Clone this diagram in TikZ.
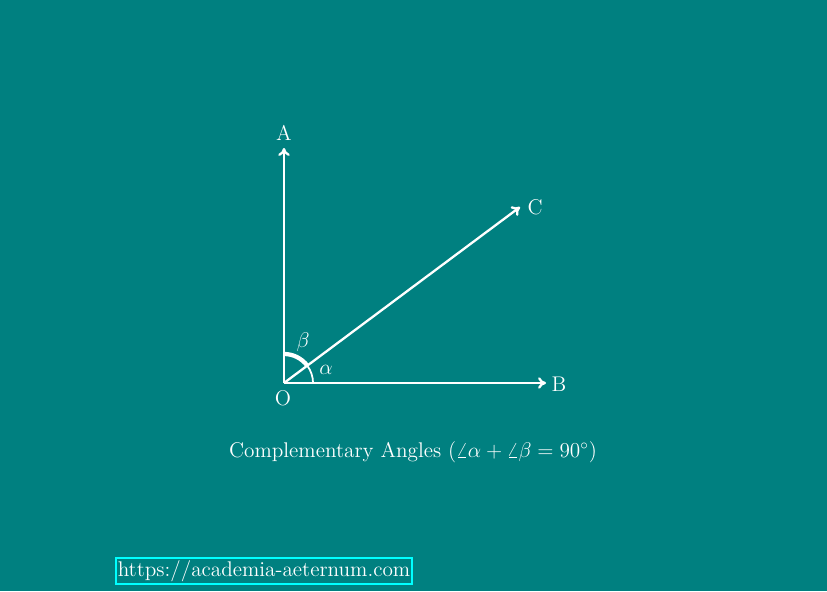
\documentclass[tikz,border=0pt]{standalone}
\usetikzlibrary{arrows.meta,calc}
\definecolor{bgteal}{RGB}{0,128,128}
\definecolor{boxcyan}{RGB}{0,255,255}
\begin{document}
\begin{tikzpicture}[x=0.565pt,y=-0.565pt,
  every node/.style={font=\fontsize{12pt}{14pt}\selectfont},
  ray/.style={white, line width=1.3pt, -{To[length=4.5pt,width=6.5pt]}},
  lbl/.style={text=white, inner sep=0pt}]
\fill[bgteal] (0,0) rectangle (827,591);
\useasboundingbox (0,0) rectangle (827,591);
\coordinate (O) at (284,383);
\coordinate (A) at (284,148);
\coordinate (B) at (546,383);
\coordinate (C) at (520,207);
\draw[ray] (O) -- (A);
\draw[ray] (O) -- (B);
\draw[ray] (O) -- (C);
\draw[white, line width=1pt] ($(O)+(16.4pt,0pt)$) arc[start angle=0, end angle=36.7, radius=16.4pt];
\draw[white, line width=2.4pt] ($(O)+(36.7:16.4pt)$) arc[start angle=36.7, end angle=90, radius=16.4pt];
\node[lbl] (la) at (284,133) {A};
\node[lbl] (lb) at (559,384) {B};
\node[lbl] (lc) at (535,207) {C};
\node[lbl] (lo) at (283,398) {O};
\node[lbl] (alpha) at (326,370) {$\alpha$};
\node[lbl] (beta) at (303,342) {$\beta$};
\node[lbl] (cap) at (413,452) {Complementary Angles ($\angle\alpha+\angle\beta=90^\circ$)};
\node[draw=boxcyan, line width=1.1pt, text=white, inner sep=1pt, minimum width=166pt, minimum height=14.7pt] (url) at (264,571) {https://academia-aeternum.com};
\end{tikzpicture}
\end{document}
